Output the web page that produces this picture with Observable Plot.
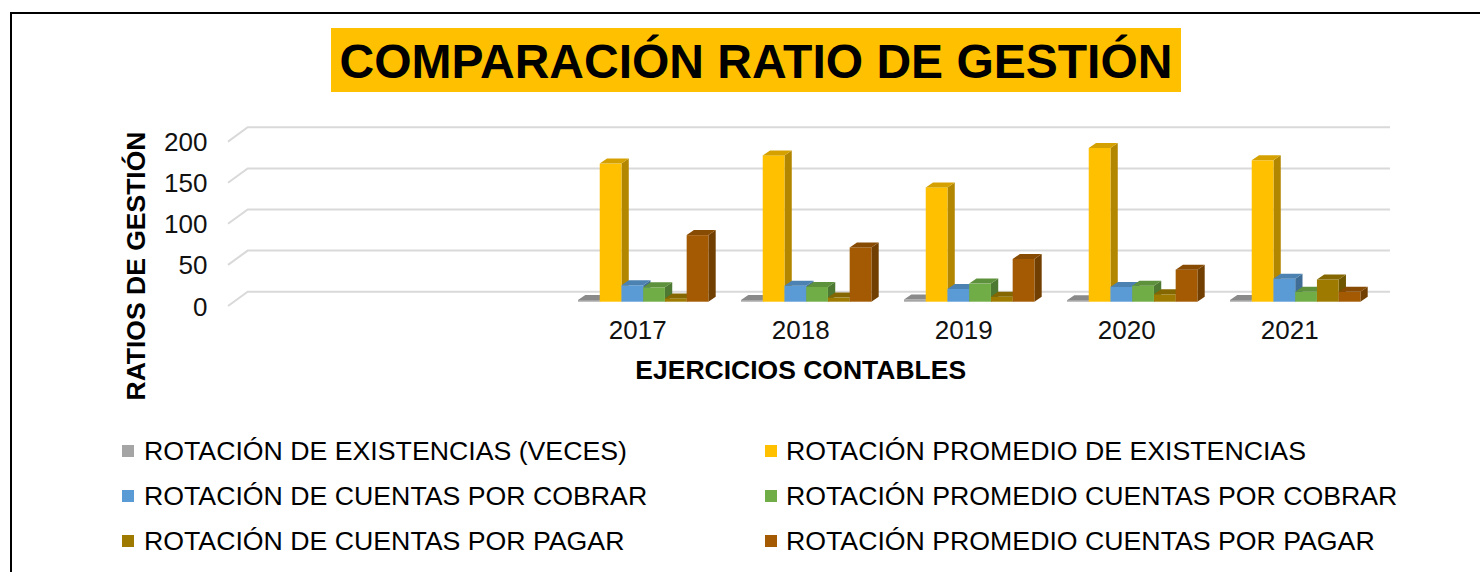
<!DOCTYPE html>
<html>
<head>
<meta charset="utf-8">
<script src="https://cdn.jsdelivr.net/npm/d3@7"></script>
<script src="https://cdn.jsdelivr.net/npm/@observablehq/plot@0.6"></script>
<style>
  body { margin: 0; background: #fff; font-family: "Liberation Sans", Arial, sans-serif; }
  #wrap { position: relative; width: 1480px; height: 572px; overflow: hidden; background: #fff; }
  #frame { position: absolute; left: 10px; top: 12px; width: 1500px; height: 600px; border: 2px solid #000; box-sizing: border-box; }
  #title { position: absolute; left: 331px; top: 28px; width: 850px; height: 62px; padding-top: 2px; background: #FFC000;
           font-weight: bold; font-size: 48px; line-height: 64px; text-align: center; color: #000; white-space: nowrap; }
  #chart { position: absolute; left: 0; top: 0; }
  #ytitle { position: absolute; left: -14.2px; top: 251px; width: 300px; height: 30px; line-height: 30px; text-align: center;
            font-weight: bold; font-size: 26.5px; color: #000; white-space: nowrap; transform: rotate(-90deg); transform-origin: 50% 50%; }
  .lg { position: absolute; font-size: 26.7px; line-height: 30px; color: #000; white-space: nowrap; }
  .sw { position: absolute; width: 12px; height: 12px; }
</style>
</head>
<body>
<div id="wrap">
  <div id="frame"></div>
  <div id="chart"></div>
  <div id="title"></div>
  <div id="ytitle"></div>
  <div id="legend"></div>
</div>
<script>
// ---- data ----
const categories = ["", " ", "2017", "2018", "2019", "2020", "2021"];
const years = ["2017", "2018", "2019", "2020", "2021"];
const seriesNames = [
  "ROTACIÓN DE EXISTENCIAS (VECES)",
  "ROTACIÓN PROMEDIO DE EXISTENCIAS",
  "ROTACIÓN DE CUENTAS POR COBRAR",
  "ROTACIÓN PROMEDIO CUENTAS POR COBRAR",
  "ROTACIÓN DE CUENTAS POR PAGAR",
  "ROTACIÓN PROMEDIO CUENTAS POR PAGAR"
];
const seriesColors = ["#A5A5A5", "#FFC000", "#5B9BD5", "#70AD47", "#9E7B00", "#A35A03"];
const rotExistencias      = [2.1, 2.0, 2.6, 1.9, 2.1];
const rotPromExistencias  = [168, 178, 139, 187, 172];
const rotCobrar           = [20, 19.5, 15.5, 18, 28];
const rotPromCobrar       = [17.5, 18, 22, 19.5, 12];
const rotPagar            = [4, 5, 6, 9, 27];
const rotPromPagar        = [81, 66, 52, 39, 12];
const yTicks = [0, 50, 100, 150, 200];
const titleText = "COMPARACIÓN RATIO DE GESTIÓN";
const xTitle = "EJERCICIOS CONTABLES";
const yTitle = "RATIOS DE GESTIÓN";

const seriesValues = [rotExistencias, rotPromExistencias, rotCobrar, rotPromCobrar, rotPagar, rotPromPagar];
const rows = years.flatMap((yr, j) => seriesValues.map((vals, i) => ({year: yr, si: i, value: vals[j]})));

// 3D depth offsets (pixels)
const DX = 7.3, DY = 5;

function bars3d(index, scales, values, dimensions) {
  const g = d3.create("svg:g");
  const xs = scales.x;
  const bw = xs.bandwidth ? xs.bandwidth() : scales.scales.x.bandwidth;
  const w = bw / seriesNames.length;
  const yb = scales.y(0);
  for (const k of index) {
    const d = rows[k];
    const c = seriesColors[d.si];
    const x0 = xs(d.year) + d.si * w, x1 = x0 + w;
    const yt = scales.y(d.value);
    const top = d3.color(c).darker(0.5).formatHex();
    const side = d3.color(c).darker(1).formatHex();
    g.append("polygon").attr("fill", side)
      .attr("points", [[x1, yt], [x1 + DX, yt - DY], [x1 + DX, yb - DY], [x1, yb]].join(" "));
    g.append("rect").attr("fill", c).attr("x", x0).attr("y", yt).attr("width", w).attr("height", Math.max(0, yb - yt));
    g.append("polygon").attr("fill", top)
      .attr("points", [[x0, yt], [x0 + DX, yt - DY], [x1 + DX, yt - DY], [x1, yt]].join(" "));
  }
  return g.node();
}

function grid3d(index, scales, values, dimensions) {
  const g = d3.create("svg:g");
  const {marginLeft, marginRight, width} = dimensions;
  for (const v of yTicks) {
    const y = scales.y(v);
    g.append("polyline")
      .attr("fill", "none").attr("stroke", "#D9D9D9").attr("stroke-width", 2)
      .attr("points", [[marginLeft - 7.7, y + 4.3], [marginLeft + 12, y - 10], [width - marginRight + 13.3, y - 10]].join(" "));
  }
  return g.node();
}

const chart = Plot.plot({
  width: 1480,
  height: 420,
  marginLeft: 235.7,
  marginRight: 103.3,
  marginTop: 137.3,
  marginBottom: 118.3,
  x: {domain: categories, paddingInner: 0.2, paddingOuter: 0.1, round: false, axis: null},
  y: {domain: [0, 200], axis: null},
  style: {fontFamily: "'Liberation Sans', Arial, sans-serif", background: "transparent", overflow: "visible"},
  marks: [
    Plot.ruleY(yTicks, {y: d => d, render: grid3d}),
    Plot.barY(rows, {x: "year", y: "value", render: bars3d}),
    Plot.text(yTicks, {y: d => d, text: d => String(d), frameAnchor: "left", dx: -28.7, dy: 5, textAnchor: "end", fontSize: 26, fill: "#111"}),
    Plot.text(categories, {x: d => d, text: d => d, frameAnchor: "bottom", dx: -6, dy: 37, fontSize: 26, fill: "#111"}),
    Plot.text([xTitle], {text: d => d, frameAnchor: "bottom", dx: -6, dy: 77, fontSize: 26.5, fontWeight: "bold", fill: "#000"})
  ]
});
document.getElementById("chart").appendChild(chart);
document.getElementById("title").textContent = titleText;
document.getElementById("ytitle").textContent = yTitle;

// ---- legend ----
const legend = document.getElementById("legend");
const colX = [[122, 144], [765, 786]];
const rowBaseline = [459.5, 504.5, 549.5];
seriesNames.forEach((name, i) => {
  const col = i % 2, row = Math.floor(i / 2);
  const sw = document.createElement("div");
  sw.className = "sw";
  sw.style.left = colX[col][0] + "px";
  sw.style.top = (rowBaseline[row] - 15) + "px";
  sw.style.background = seriesColors[i];
  legend.appendChild(sw);
  const t = document.createElement("div");
  t.className = "lg";
  t.style.left = colX[col][1] + "px";
  t.style.top = (rowBaseline[row] - 24) + "px";
  t.textContent = name;
  legend.appendChild(t);
});
</script>
</body>
</html>
